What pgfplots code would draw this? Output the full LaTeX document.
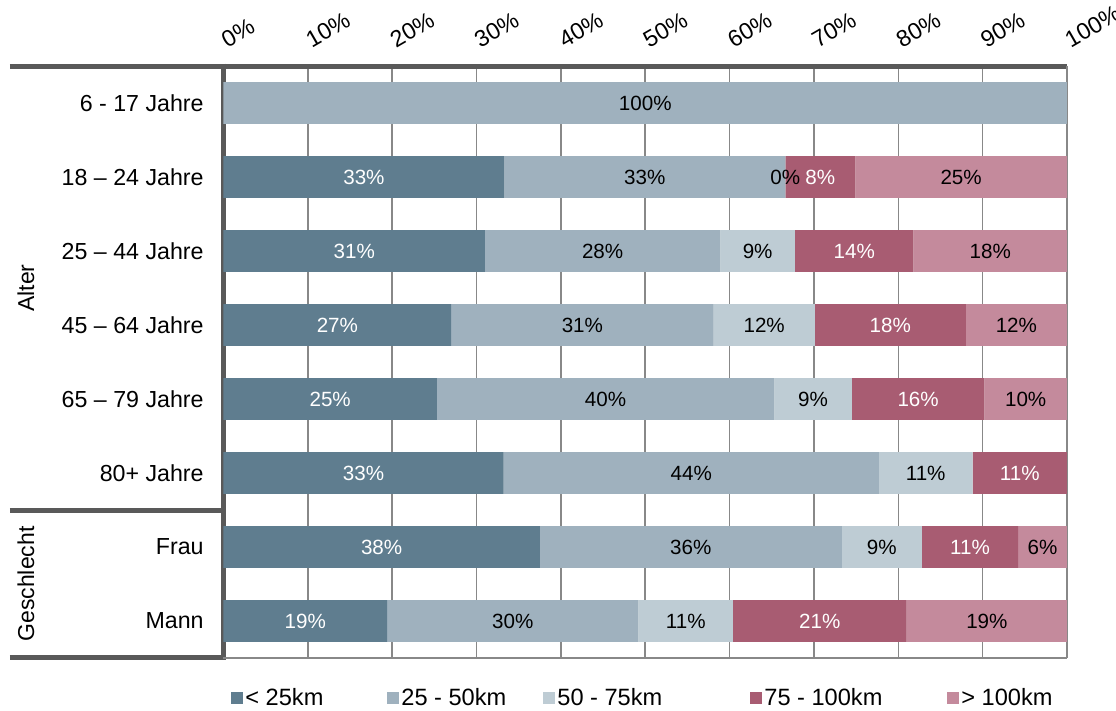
\documentclass[border=0pt]{standalone}
\usepackage{fontspec}
\setmainfont{Liberation Sans}
\usepackage{pgfplots}
\pgfplotsset{compat=1.18}
\definecolor{c1}{RGB}{95,125,143}
\definecolor{c2}{RGB}{159,177,190}
\definecolor{c3}{RGB}{190,204,212}
\definecolor{c4}{RGB}{168,92,114}
\definecolor{c5}{RGB}{196,138,156}
\definecolor{framec}{RGB}{89,89,89}
\definecolor{gridc}{RGB}{136,136,136}
\pgfplotsset{
  base/.style={at={(0,0)}, anchor=south west, scale only axis,
    width=421.75pt, height=296pt, xbar stacked, bar width=0.565,
    xmin=0, xmax=100, ymin=-0.5, ymax=7.5, y dir=reverse, clip=false},
  lab/.style={fill=none, draw=none, forget plot, nodes near coords, point meta=explicit symbolic,
    every node near coord/.append style={anchor=center, font=\fontsize{10.3}{12}\selectfont, inner sep=0pt}},
  labw/.style={lab, every node near coord/.append style={text=white}},
}
\begin{document}
\begin{tikzpicture}
\begin{axis}[
  base,
  xtick={0,10,...,100},
  xticklabels={0\%,10\%,20\%,30\%,40\%,50\%,60\%,70\%,80\%,90\%,100\%},
  xticklabel pos=upper,
  xticklabel style={rotate=30, anchor=south west, inner sep=0pt, font=\fontsize{11.6}{13}\selectfont, yshift=6.5pt, xshift=6pt},
  ytick={0,...,7},
  yticklabels={6 - 17 Jahre, 18 – 24 Jahre, 25 – 44 Jahre, 45 – 64 Jahre, 65 – 79 Jahre, 80+ Jahre, Frau, Mann},
  yticklabel style={inner sep=0pt, xshift=-9.75pt, font=\fontsize{11.6}{13}\selectfont},
  major tick length=0pt,
  tick style={draw=none},
  xmajorgrids,
  grid style={gridc, line width=0.75pt},
  axis line style={draw=none},
  legend image code/.code={\fill[#1] (0pt,-3pt) rectangle (6pt,3pt);},
  legend columns=5,
  legend style={draw=none, fill=none, inner sep=0pt, at={(axis description cs:0,0)}, anchor=west, xshift=3.75pt, yshift=-20pt, nodes={inner sep=1pt, font=\fontsize{11.8}{13}\selectfont}, column sep=0pt},
]
\addplot[fill=c1, draw=none] coordinates {
 (0,0) (33.3,1) (31.0,2) (27.0,3) (25.3,4) (33.2,5) (37.5,6) (19.4,7)};
\addlegendentry{\makebox[70pt][l]{< 25km}}
\addplot[fill=c2, draw=none] coordinates {
 (100,0) (33.3,1) (27.9,2) (31.1,3) (40.0,4) (44.5,5) (35.8,6) (29.8,7)};
\addlegendentry{\makebox[70pt][l]{25 - 50km}}
\addplot[fill=c3, draw=none] coordinates {
 (0,0) (0.001,1) (8.85,2) (12.0,3) (9.2,4) (11.1,5) (9.5,6) (11.2,7)};
\addlegendentry{\makebox[95.5pt][l]{50 - 75km}}
\addplot[fill=c4, draw=none] coordinates {
 (0,0) (8.3,1) (14.05,2) (17.9,3) (15.7,4) (11.2,5) (11.4,6) (20.6,7)};
\addlegendentry{\makebox[90.5pt][l]{75 - 100km}}
\addplot[fill=c5, draw=none] coordinates {
 (0,0) (25.1,1) (18.2,2) (12.0,3) (9.8,4) (0,5) (5.8,6) (19.0,7)};
\addlegendentry{> 100km}
% frame
\draw[gridc, line width=0.75pt] (axis cs:100,-0.5) -- (axis cs:100,7.5);
\draw[gridc, line width=0.75pt] (axis cs:0,7.5) -- (axis cs:100,7.5);
\draw[framec, line width=2.5pt] ([xshift=-106.75pt]axis cs:0,-0.5) -- (axis cs:100,-0.5);
\draw[framec, line width=2.5pt] ([yshift=1.25pt]axis cs:0,-0.5) -- ([yshift=-1.25pt]axis cs:0,7.5);
\draw[framec, line width=2.5pt] ([xshift=-106.75pt]axis cs:0,5.5) -- (axis cs:0,5.5);
\draw[framec, line width=2.5pt] ([xshift=-106.75pt]axis cs:0,7.5) -- ([xshift=1.25pt]axis cs:0,7.5);
\node[rotate=90, font=\fontsize{11.5}{13}\selectfont] at ([xshift=-98.75pt]axis cs:0,2.5) {Alter};
\node[rotate=90, font=\fontsize{11.5}{13}\selectfont] at ([xshift=-98.75pt]axis cs:0,6.5) {Geschlecht};
\end{axis}
% labels on top, same geometry
\begin{axis}[base, hide axis]
\addplot[labw] coordinates {
 (0,0) [\relax] (33.3,1) [33\%] (31.0,2) [31\%] (27.0,3) [27\%] (25.3,4) [25\%] (33.2,5) [33\%] (37.5,6) [38\%] (19.4,7) [19\%]};
\addplot[lab] coordinates {
 (100,0) [100\%] (33.3,1) [33\%] (27.9,2) [28\%] (31.1,3) [31\%] (40.0,4) [40\%] (44.5,5) [44\%] (35.8,6) [36\%] (29.8,7) [30\%]};
\addplot[lab] coordinates {
 (0,0) [\relax] (0.001,1) [0\%] (8.85,2) [9\%] (12.0,3) [12\%] (9.2,4) [9\%] (11.1,5) [11\%] (9.5,6) [9\%] (11.2,7) [11\%]};
\addplot[labw] coordinates {
 (0,0) [\relax] (8.3,1) [8\%] (14.05,2) [14\%] (17.9,3) [18\%] (15.7,4) [16\%] (11.2,5) [11\%] (11.4,6) [11\%] (20.6,7) [21\%]};
\addplot[lab] coordinates {
 (0,0) [\relax] (25.1,1) [25\%] (18.2,2) [18\%] (12.0,3) [12\%] (9.8,4) [10\%] (0,5) [\relax] (5.8,6) [6\%] (19.0,7) [19\%]};
\end{axis}
\pgfresetboundingbox
\path (-111.75pt,-26.5pt) rectangle (446.25pt,329pt);
\end{tikzpicture}
\end{document}
